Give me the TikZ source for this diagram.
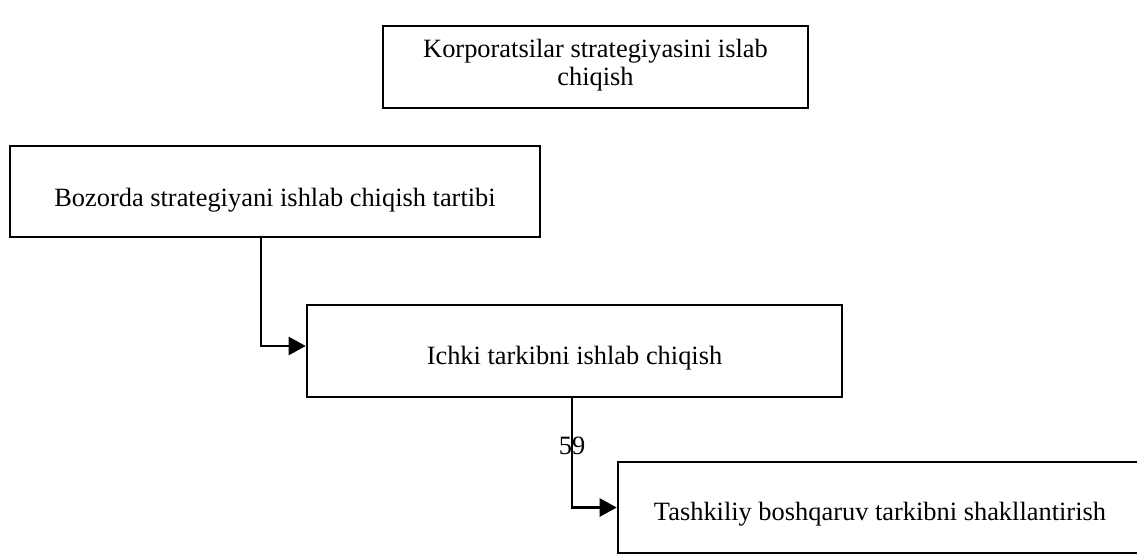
\documentclass[tikz,border=0pt]{standalone}
\usepackage{fontspec}
\setmainfont{Liberation Serif}
\usetikzlibrary{arrows.meta}
\begin{document}
\begin{tikzpicture}[x=0.75pt,y=-0.75pt,
  box/.style={draw,line width=1.9pt,inner sep=0pt,rectangle},
  txt/.style={font=\fontsize{19.8pt}{21pt}\selectfont,inner sep=0pt,anchor=base},
  conn/.style={line width=1.7pt,-{Triangle[length=12.75pt,width=13.5pt]}}]
\path[use as bounding box,clip] (0,0) rectangle (1137,554);
\node[box,minimum width=318.75pt,minimum height=61.3pt] (b1) at (595.5,66.9) {};
\node[box,minimum width=397.5pt,minimum height=68.25pt] (b2) at (275,191.5) {};
\node[box,minimum width=401.25pt,minimum height=69pt] (b3) at (574.5,351) {};
\node[box,minimum width=393pt,minimum height=68.25pt] (b4) at (880,507.5) {};
\node[txt] (t1a) at (595.5,57) {Korporatsilar strategiyasini islab};
\node[txt] (t1b) at (595.5,85) {chiqish};
\node[txt] (t2) at (275,206) {Bozorda strategiyani ishlab chiqish tartibi};
\node[txt] (t3) at (574.5,364) {Ichki tarkibni ishlab chiqish};
\node[txt] (t4) at (880,520) {Tashkiliy boshqaruv tarkibni shakllantirish};
\node[txt] (n59) at (572,454) {59};
\draw[conn] ([xshift=189pt]b2.south west) |- ([yshift=3.75pt]b3.west);
\draw[conn] ([xshift=199.5pt]b3.south west) |- (b4.west);
\end{tikzpicture}
\end{document}
